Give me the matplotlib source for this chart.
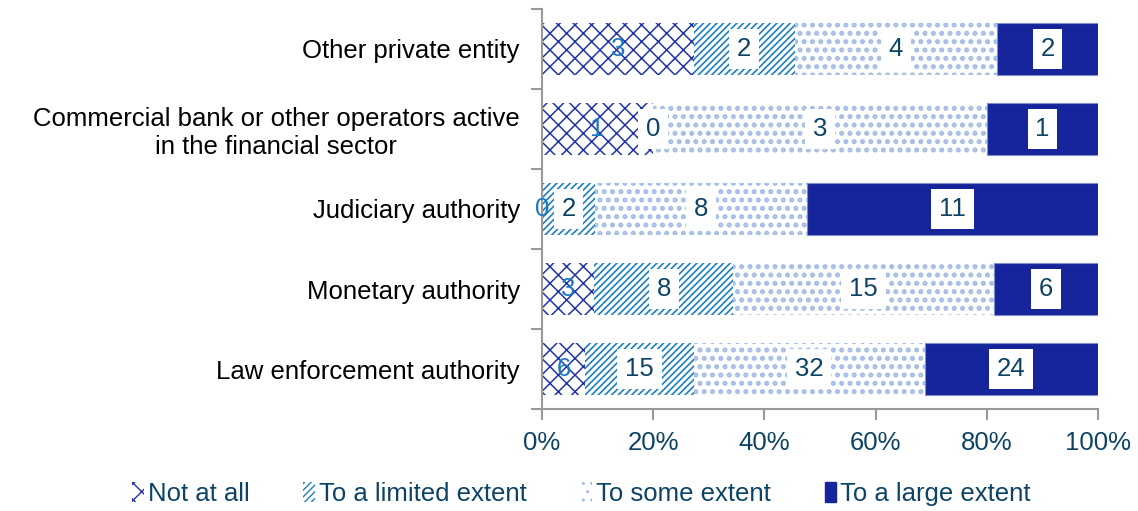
import matplotlib
matplotlib.use("Agg")
import matplotlib.pyplot as plt
from matplotlib.patches import Patch
import numpy as np

plt.rcParams['font.family'] = ['Liberation Sans', 'DejaVu Sans']

categories = ["Law enforcement authority", "Monetary authority", "Judiciary authority",
              "Commercial bank or other operators active\nin the financial sector",
              "Other private entity"]
series_names = ["Not at all", "To a limited extent", "To some extent", "To a large extent"]
not_at_all = [6, 3, 0, 1, 3]
limited = [15, 8, 2, 0, 2]
some = [32, 15, 8, 3, 4]
large = [24, 6, 11, 1, 2]
xticks = [0, 20, 40, 60, 80, 100]
xticklabels = ["0%", "20%", "40%", "60%", "80%", "100%"]

series = [not_at_all, limited, some, large]
hcolors = ["#2233aa", "#1b7ec2", "#a3bce6", "#16259c"]
hatches = ["xx", "/////", "..", None]
hlw = [1.1, 1.2, 2.4, 1.0]
txt_dark = "#0d4466"
txt_blue = "#1a78c0"
FS = 18.5

fig = plt.figure(figsize=(11.38, 5.11), dpi=100)
ax = fig.add_axes([0.4763, 0.1996, 0.4886, 0.7828])

data = np.array(series, dtype=float)
totals = data.sum(axis=0)
pct = data / totals * 100
y = np.arange(len(categories))
left = np.zeros(len(categories))
for i in range(4):
    plt.rcParams['hatch.linewidth'] = hlw[i]
    if hatches[i] is None:
        ax.barh(y, pct[i], left=left, height=0.66, color=hcolors[i], edgecolor="#7f8fcc", linewidth=0.8)
    else:
        ax.barh(y, pct[i], left=left, height=0.66, facecolor="white", edgecolor=hcolors[i],
                hatch=hatches[i], linewidth=0)
    for j in range(len(categories)):
        cx = left[j] + pct[i][j] / 2
        val = int(data[i][j])
        if i == 0:
            ax.text(cx, y[j], str(val), ha="center", va="center", fontsize=FS, color=txt_blue)
        else:
            ax.text(cx, y[j], str(val), ha="center", va="center", fontsize=FS, color=txt_dark,
                    bbox=dict(boxstyle="square,pad=0.3", facecolor="white", edgecolor="none"))
    left += pct[i]

ax.set_xlim(0, 100)
ax.set_ylim(-0.5, 4.5)
ax.set_xticks(xticks)
ax.set_xticklabels(xticklabels, fontsize=FS, color=txt_dark)
ax.set_yticks(np.arange(-0.5, 5.0, 1.0))
ax.set_yticklabels([])
ax.set_yticks(y, minor=True)
ax.set_yticklabels(categories, minor=True, fontsize=FS, color="black", ha="right",
                   multialignment="center")
ax.tick_params(axis="y", which="minor", length=0, pad=16)
ax.tick_params(axis="y", which="major", length=8, color="#999999", width=1.5)
ax.tick_params(axis="x", length=8, color="#999999", width=1.5, pad=8)
for s in ["top", "right"]:
    ax.spines[s].set_visible(False)
for s in ["left", "bottom"]:
    ax.spines[s].set_color("#999999")
    ax.spines[s].set_linewidth(1.5)

plt.rcParams['hatch.linewidth'] = 1.0
handles = []
for i in range(4):
    if hatches[i] is None:
        handles.append(Patch(facecolor=hcolors[i], edgecolor=hcolors[i], label=series_names[i]))
    else:
        handles.append(Patch(facecolor="white", edgecolor=hcolors[i], hatch=hatches[i], linewidth=0,
                             label=series_names[i]))
leg = fig.legend(handles=handles, loc="center", bbox_to_anchor=(0.511, 0.033), ncol=4, frameon=False,
                 fontsize=FS, handlelength=0.45, handleheight=0.8, handletextpad=0.15, columnspacing=2.1)
for t in leg.get_texts():
    t.set_color(txt_dark)

fig.savefig("out.png", dpi=100)
